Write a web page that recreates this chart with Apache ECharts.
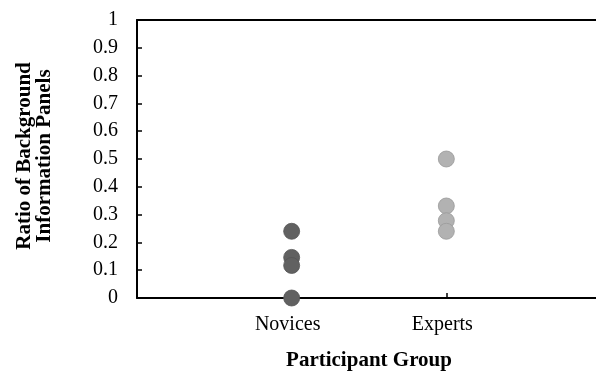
<!DOCTYPE html>
<html>
<head>
<meta charset="utf-8">
<script src="https://cdn.jsdelivr.net/npm/echarts@6/dist/echarts.min.js"></script>
<style>html,body{margin:0;padding:0;background:#fff}#c{width:596px;height:371px}</style>
</head>
<body>
<div id="c"></div>
<script>
const groups = ['', 'Novices', 'Experts', ''];
const noviceValues = [0.24, 0.146, 0.117, 0.0];
const expertValues = [0.5, 0.331, 0.278, 0.24];
const yTicks = ['0', '0.1', '0.2', '0.3', '0.4', '0.5', '0.6', '0.7', '0.8', '0.9', '1'];

const chart = echarts.init(document.getElementById('c'), null, {renderer: 'canvas'});
const font = '"Liberation Serif", "Times New Roman", serif';
chart.setOption({
  animation: false,
  grid: {left: 137, width: 464, top: 20, bottom: 73, containLabel: false, outerBoundsMode: 'none'},
  xAxis: [{
    type: 'value', min: 0, max: 3, interval: 1,
    name: 'Participant Group', nameLocation: 'middle', nameGap: 52,
    nameTextStyle: {fontFamily: font, fontWeight: 'bold', fontSize: 21, color: '#000'},
    axisLine: {show: true, lineStyle: {color: '#000', width: 2}},
    axisTick: {show: true, inside: true, length: 5, lineStyle: {color: '#000', width: 1.5}},
    splitLine: {show: false},
    axisLabel: {
      fontFamily: font, fontSize: 20, color: '#000', margin: 17, padding: [0, 8, 0, 0],
      formatter: v => groups[Math.round(v)] || ''
    }
  }, {
    type: 'value', min: 0, max: 3, position: 'top',
    axisLine: {show: true, lineStyle: {color: '#000', width: 2}},
    axisTick: {show: false}, axisLabel: {show: false}, splitLine: {show: false}
  }],
  yAxis: {
    type: 'value', min: 0, max: 1, interval: 0.1,
    name: 'Ratio of Background\nInformation Panels',
    nameLocation: 'middle', nameGap: 82, nameRotate: 90,
    nameTextStyle: {fontFamily: font, fontWeight: 'bold', fontSize: 21, color: '#000', lineHeight: 20, padding: [0, 0, 0, 6]},
    axisLine: {show: true, lineStyle: {color: '#000', width: 2}},
    axisTick: {show: true, inside: true, length: 5, lineStyle: {color: '#000', width: 1.5}},
    splitLine: {show: false},
    axisLabel: {
      fontFamily: font, fontSize: 20, color: '#000', margin: 19,
      formatter: v => yTicks[Math.round(v * 10)]
    }
  },
  series: [
    {
      type: 'scatter', symbolSize: 16,
      data: noviceValues.map(v => [1, v]),
      itemStyle: {color: '#616161', borderColor: '#555', borderWidth: 0.8, opacity: 1}
    },
    {
      type: 'scatter', symbolSize: 16,
      data: expertValues.map(v => [2, v]),
      itemStyle: {color: '#b2b2b2', borderColor: '#999', borderWidth: 0.8, opacity: 1}
    }
  ]
});
</script>
</body>
</html>
